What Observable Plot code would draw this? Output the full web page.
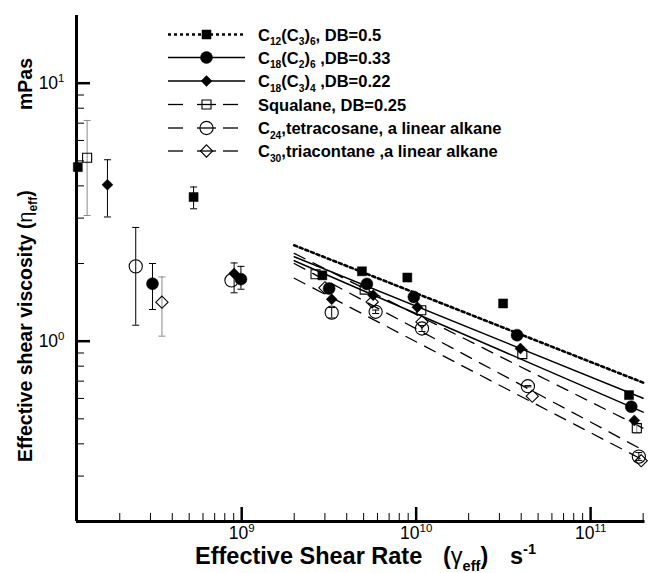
<!DOCTYPE html>
<html><head><meta charset="utf-8">
<script src="https://cdn.jsdelivr.net/npm/d3@7"></script>
<script src="https://cdn.jsdelivr.net/npm/@observablehq/plot@0.6"></script>
<style>
body{margin:0;background:#fff;}
#chart{position:relative;width:654px;height:573px;}
</style>
</head><body><div id="chart"></div>
<script>
// ---------- axes ----------
const xDomain = [1.13e8, 2.05e11];
const yDomain = [0.2, 18.3];
const xMajor = [1e9, 1e10, 1e11];
const xMajorExp = ["9", "10", "11"];
const xMinor = [2e8,3e8,4e8,5e8,6e8,7e8,8e8,9e8, 2e9,3e9,4e9,5e9,6e9,7e9,8e9,9e9, 2e10,3e10,4e10,5e10,6e10,7e10,8e10,9e10, 2e11];
const yMajor = [1, 10];
const yMajorExp = ["0", "1"];
const yMinor = [0.3,0.4,0.5,0.6,0.7,0.8,0.9, 2,3,4,5,6,7,8,9];

// ---------- fitted power-law lines (values at both ends) ----------
const fitX = [2e9, 2e11];
const fitC12 = [2.353, 0.691];
const fitC18C2 = [2.124, 0.601];
const fitC18C3 = [2.049, 0.531];
const fitSqualane = [2.19, 0.460];
const fitC24 = [2.00, 0.378];
const fitC30 = [1.754, 0.346];

// ---------- data points ----------
const c12X = [1.15e8, 5.3e8, 2.9e9, 4.89e9, 8.9e9, 3.15e10, 1.66e11];
const c12Y = [4.73, 3.62, 1.80, 1.866, 1.765, 1.40, 0.618];
const c12ErrX = [5.3e8];
const c12ErrLo = [3.26];
const c12ErrHi = [3.96];

const c18c2X = [3.08e8, 9.9e8, 3.17e9, 5.22e9, 9.7e9, 3.79e10, 1.71e11];
const c18c2Y = [1.67, 1.74, 1.60, 1.667, 1.484, 1.055, 0.557];
const c18c2ErrX = [3.08e8, 9.9e8];
const c18c2ErrLo = [1.327, 1.59];
const c18c2ErrHi = [2.0, 1.95];

const c18c3X = [1.70e8, 9.05e8, 3.28e9, 5.67e9, 1.016e10, 3.96e10, 1.78e11];
const c18c3Y = [4.04, 1.83, 1.454, 1.507, 1.354, 0.937, 0.493];
const c18c3ErrX = [1.70e8, 9.05e8];
const c18c3ErrLo = [3.03, 1.54];
const c18c3ErrHi = [5.05, 2.01];

const squalaneX = [1.30e8, 2.65e9, 5.07e9, 1.07e10, 4.06e10, 1.84e11];
const squalaneY = [5.14, 1.817, 1.585, 1.318, 0.891, 0.46];
const squalaneErrX = [1.30e8, 1.84e11];
const squalaneErrLo = [3.07, 0.44];
const squalaneErrHi = [7.17, 0.48];

const c24X = [2.47e8, 8.74e8, 3.28e9, 5.86e9, 1.08e10, 4.37e10, 1.89e11];
const c24Y = [1.95, 1.72, 1.29, 1.30, 1.12, 0.669, 0.357];
const c24ErrX = [2.47e8, 3.28e9, 5.86e9, 1.08e10, 4.37e10, 1.89e11];
const c24ErrLo = [1.153, 1.23, 1.28, 1.09, 0.665, 0.345];
const c24ErrHi = [2.76, 1.35, 1.32, 1.15, 0.673, 0.370];

const c30X = [3.49e8, 3.0e9, 5.6e9, 1.08e10, 4.63e10, 1.95e11];
const c30Y = [1.416, 1.61, 1.42, 1.188, 0.612, 0.344];
const c30ErrX = [3.49e8];
const c30ErrLo = [1.046];
const c30ErrHi = [1.774];

// ---------- legend text ----------
const legendLabels = [
  [["C",0],["12",1],["(C",0],["3",1],[")",0],["6",1],[", DB=0.5",0]],
  [["C",0],["18",1],["(C",0],["2",1],[")",0],["6",1],[" ,DB=0.33",0]],
  [["C",0],["18",1],["(C",0],["3",1],[")",0],["4",1],[" ,DB=0.22",0]],
  [["Squalane, DB=0.25",0]],
  [["C",0],["24",1],[",tetracosane, a linear alkane",0]],
  [["C",0],["30",1],[",triacontane ,a linear alkane",0]]
];

// ---------- build ----------
const W = 654, H = 573;
const mL = 76, mR = 9.5, mT = 15, mB = 52;
const innerW = W - mL - mR, innerH = H - mT - mB;
const FONT = '"Liberation Sans", Arial, Helvetica, sans-serif';

const rows = (xs, ys) => xs.map((x, i) => ({x, y: ys[i]}));
const errRows = (xs, lo, hi) => xs.map((x, i) => ({x, lo: lo[i], hi: hi[i]}));
const capSymbol = {draw(ctx) { ctx.moveTo(-3.5, 0); ctx.lineTo(3.5, 0); }};

const series = [
  {pts: rows(c12X, c12Y), err: errRows(c12ErrX, c12ErrLo, c12ErrHi), fit: rows(fitX, fitC12), sym: "square", r: 5.1, fill: "black", errC: "black", dash: "3,3", lw: 2.6},
  {pts: rows(c18c2X, c18c2Y), err: errRows(c18c2ErrX, c18c2ErrLo, c18c2ErrHi), fit: rows(fitX, fitC18C2), sym: "circle", r: 6, fill: "black", errC: "black", dash: null, lw: 1.5},
  {pts: rows(c18c3X, c18c3Y), err: errRows(c18c3ErrX, c18c3ErrLo, c18c3ErrHi), fit: rows(fitX, fitC18C3), sym: "diamond2", r: 4.95, fill: "black", errC: "black", dash: null, lw: 1.5},
  {pts: rows(squalaneX, squalaneY), err: errRows(squalaneErrX, squalaneErrLo, squalaneErrHi), fit: rows(fitX, fitSqualane), sym: "square", r: 5.1, fill: "none", errC: "#8a8a8a", dash: "12,9", lw: 1.3},
  {pts: rows(c24X, c24Y), err: errRows(c24ErrX, c24ErrLo, c24ErrHi), fit: rows(fitX, fitC24), sym: "circle", r: 6.6, fill: "none", errC: "black", dash: "12,9", lw: 1.3},
  {pts: rows(c30X, c30Y), err: errRows(c30ErrX, c30ErrLo, c30ErrHi), fit: rows(fitX, fitC30), sym: "diamond2", r: 5.5, fill: "none", errC: "#8a8a8a", dash: "12,9", lw: 1.3}
];

const marks = [
  Plot.ruleX(xMinor, {x: d => d, insetTop: innerH - 8, strokeWidth: 1}),
  Plot.ruleX(xMajor, {x: d => d, insetTop: innerH - 14, strokeWidth: 2.5}),
  Plot.ruleY(yMinor, {y: d => d, insetRight: innerW - 8, strokeWidth: 1}),
  Plot.ruleY(yMajor, {y: d => d, insetRight: innerW - 14, strokeWidth: 2.5}),
  Plot.axisX(xMajor, {tickSize: 0, tickPadding: 5, tickFormat: () => "10", fontSize: 17.5, label: null}),
  Plot.axisY(yMajor, {tickSize: 0, tickPadding: 12, tickFormat: () => "10", fontSize: 17.5, label: null})
];
for (const s of series) {
  marks.push(Plot.line(s.fit, {x: "x", y: "y", stroke: "black", strokeWidth: s.lw, strokeDasharray: s.dash}));
}
for (const s of series) {
  marks.push(Plot.ruleX(s.err, {x: "x", y1: "lo", y2: "hi", stroke: s.errC, strokeWidth: 1}));
  marks.push(Plot.dot(s.err, {x: "x", y: "lo", symbol: capSymbol, r: 3, stroke: s.errC, fill: "none", strokeWidth: 1}));
  marks.push(Plot.dot(s.err, {x: "x", y: "hi", symbol: capSymbol, r: 3, stroke: s.errC, fill: "none", strokeWidth: 1}));
}
for (const s of series) {
  marks.push(Plot.dot(s.pts, {x: "x", y: "y", symbol: s.sym, r: s.r,
    fill: s.fill === "none" ? "none" : "black",
    stroke: "black", strokeWidth: s.fill === "none" ? 1.1 : 0.5}));
}
marks.push(Plot.ruleX([xDomain[0]], {x: d => d, strokeWidth: 3}));
marks.push(Plot.ruleY([yDomain[0]], {y: d => d, strokeWidth: 3}));

const svgNode = Plot.plot({
  width: W, height: H,
  marginLeft: mL, marginRight: mR, marginTop: mT, marginBottom: mB,
  x: {type: "log", domain: xDomain, label: null},
  y: {type: "log", domain: yDomain, label: null},
  style: {fontFamily: FONT, background: "white", color: "black", overflow: "visible"},
  marks
});
document.getElementById("chart").appendChild(svgNode);
const svg = d3.select(svgNode);

// superscript exponents on tick labels
svg.selectAll('g[aria-label="x-axis tick label"] text').each(function(d, i) {
  d3.select(this).append("tspan").attr("dy", -7).attr("font-size", 11.5).text(xMajorExp[i]);
});
svg.selectAll('g[aria-label="y-axis tick label"] text').each(function(d, i) {
  d3.select(this).append("tspan").attr("dy", -7).attr("font-size", 11.5).text(yMajorExp[i]);
});

// rich text helper
function rich(parent, segs, size, attrs) {
  const t = parent.append("text").attr("font-size", size).attr("font-weight", "bold")
    .attr("font-family", FONT).attr("text-anchor", "start")
    .style("white-space", "pre").attr("fill", "black");
  for (const k in attrs) t.attr(k, attrs[k]);
  let shift = 0;
  for (const [s, mode, normal] of segs) {
    const target = mode === 1 ? size * 0.28 : mode === 2 ? -size * 0.42 : 0;
    const ts = t.append("tspan").text(s).attr("dy", target - shift);
    if (mode) ts.attr("font-size", size * 0.62);
    if (normal) ts.attr("font-weight", "normal");
    shift = target;
  }
  return t;
}

// axis titles
const titles = svg.append("g");
rich(titles, [["Effective Shear Rate", 0]], 23.5, {x: 195, y: 564});
rich(titles, [["(", 0], ["\u03B3", 0, true], ["eff", 1], [")", 0]], 23.5, {x: 443, y: 564});
rich(titles, [["s", 0], ["-1", 2]], 23.5, {x: 510, y: 564});
rich(titles, [["Effective shear viscosity (", 0], ["\u03B7", 0, true], ["eff", 1], [")", 0]], 19.5, {transform: "translate(32,462) rotate(-90)"});
rich(titles, [["mPas", 0]], 19.5, {transform: "translate(32,110) rotate(-90)"});

// legend
const lg = svg.append("g");
const rowY = [34.5, 57.5, 81, 104.5, 128, 151];
const lx0 = 168, lx1 = 245, mx = 206.5, tx = 258;
series.forEach((s, i) => {
  const y = rowY[i];
  if (i === 0) {
    lg.append("line").attr("x1", lx0).attr("x2", lx1).attr("y1", y).attr("y2", y)
      .attr("stroke", "black").attr("stroke-width", 2.6).attr("stroke-dasharray", "3,3");
  } else if (i < 3) {
    lg.append("line").attr("x1", lx0).attr("x2", lx1).attr("y1", y).attr("y2", y)
      .attr("stroke", "black").attr("stroke-width", 1.5);
  } else {
    for (const [a, b] of [[168, 183], [197, 216], [223, 238]]) {
      lg.append("line").attr("x1", a).attr("x2", b).attr("y1", y).attr("y2", y)
        .attr("stroke", "black").attr("stroke-width", 1.3);
    }
  }
  const type = s.sym === "square" ? d3.symbolSquare : s.sym === "circle" ? d3.symbolCircle : d3.symbolDiamond2;
  lg.append("path").attr("d", d3.symbol(type, Math.PI * s.r * s.r)())
    .attr("transform", `translate(${mx},${y})`)
    .attr("fill", s.fill === "none" ? "none" : "black")
    .attr("stroke", "black").attr("stroke-width", s.fill === "none" ? 1.1 : 0.5);
  rich(lg, legendLabels[i], 16.5, {x: tx, y: y + 6});
});
</script>
</body></html>
